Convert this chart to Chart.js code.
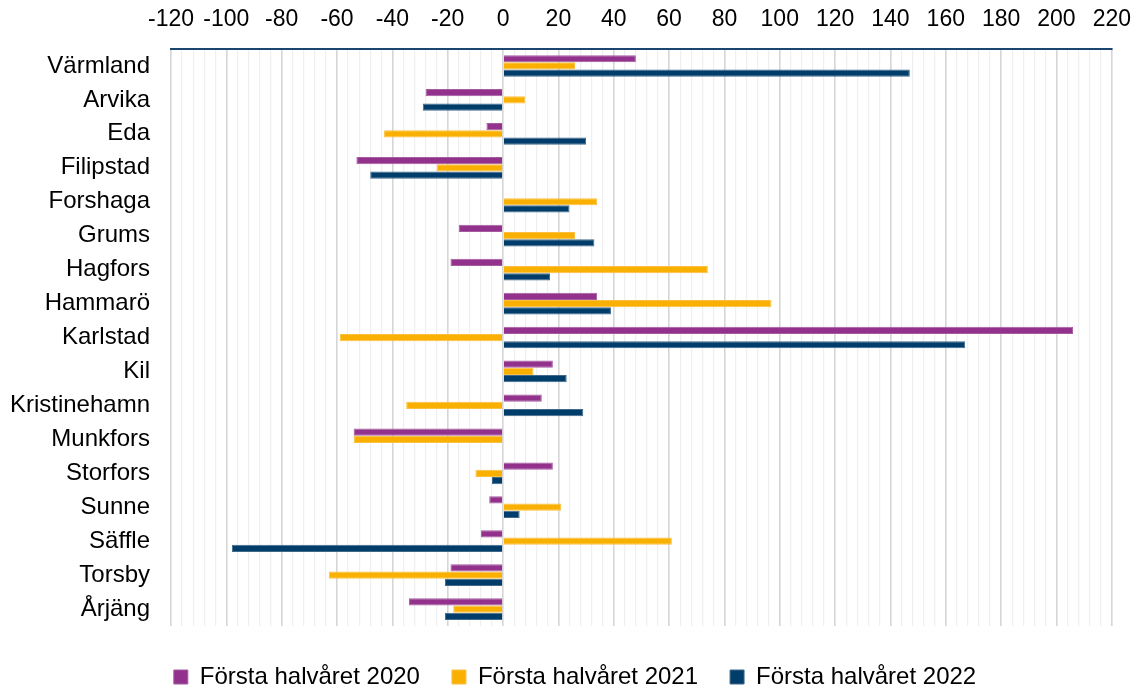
<!DOCTYPE html>
<html>
<head>
<meta charset="utf-8">
<script src="https://cdn.jsdelivr.net/npm/chart.js@4"></script>
<style>
  html, body { margin: 0; padding: 0; background: #fff; }
  #wrap { width: 1140px; height: 693px; }
</style>
</head>
<body>
<div id="wrap"><canvas id="myBarChart"></canvas></div>
<script>
var kommuner = ['Värmland', 'Arvika', 'Eda', 'Filipstad', 'Forshaga', 'Grums', 'Hagfors', 'Hammarö',
    'Karlstad', 'Kil', 'Kristinehamn', 'Munkfors', 'Storfors', 'Sunne', 'Säffle', 'Torsby', 'Årjäng'];
var seriesNames = ['Första halvåret 2020', 'Första halvåret 2021', 'Första halvåret 2022'];
var halvar2020 = [48, -28, -6, -53, 0, -16, -19, 34, 206, 18, 14, -54, 18, -5, -8, -19, -34];
var halvar2021 = [26, 8, -43, -24, 34, 26, 74, 97, -59, 11, -35, -54, -10, 21, 61, -63, -18];
var halvar2022 = [147, -29, 30, -48, 24, 33, 17, 39, 167, 23, 29, 0, -4, 6, -98, -21, -21];
var xMin = -120, xMax = 220;

var ctx = document.getElementById('myBarChart').getContext('2d');
Chart.defaults.font.family = '"Liberation Sans", Arial, sans-serif';
Chart.defaults.color = '#000';

var myBarChart = new Chart(ctx, {
    type: 'bar',
    data: {
        labels: kommuner,
        datasets: [{
            label: seriesNames[0],
            data: halvar2020,
            backgroundColor: '#92328C',
            borderColor: '#A65BA1',
            borderWidth: 1
        }, {
            label: seriesNames[1],
            data: halvar2021,
            backgroundColor: '#FAB000',
            borderColor: '#FBC040',
            borderWidth: 1
        }, {
            label: seriesNames[2],
            data: halvar2022,
            backgroundColor: '#003D6A',
            borderColor: '#3F6A8C',
            borderWidth: 1
        }]
    },
    options: {
        indexAxis: 'y',
        responsive: true,
        maintainAspectRatio: false,
        animation: false,
        categoryPercentage: 0.64,
        barPercentage: 1,
        layout: { padding: { left: 10, right: 0, top: -9, bottom: -6 } },
        plugins: {
            tooltip: { enabled: false },
            legend: {
                position: 'bottom',
                title: {
                    display: true,
                    text: '',
                    padding: { top: 6, bottom: 0 },
                    font: { size: 1, lineHeight: 1 }
                },
                labels: {
                    boxWidth: 14,
                    boxHeight: 14,
                    padding: 32,
                    font: { size: 24 }
                }
            }
        },
        scales: {
            x: {
                position: 'top',
                min: xMin,
                max: xMax,
                border: { display: true, color: '#1B4470', width: 2 },
                grid: {
                    drawTicks: false,
                    color: function (c) {
                        return c.tick && c.tick.value % 20 === 0 ? '#d6d6d6' : '#efefef';
                    },
                    lineWidth: function (c) {
                        return c.tick && c.tick.value % 20 === 0 ? 1.6 : 1.2;
                    }
                },
                ticks: {
                    stepSize: 4,
                    autoSkip: false,
                    maxRotation: 0,
                    padding: 9,
                    font: { size: 23, lineHeight: 1.74 },
                    callback: function (v) {
                        return v % 20 === 0 ? String(v) : '';
                    }
                }
            },
            y: {
                border: { display: false },
                grid: { display: false, drawTicks: false },
                afterFit: function (scale) {
                    scale.width = 161;
                },
                ticks: {
                    padding: 21,
                    font: { size: 24 }
                }
            }
        }
    }
});
</script>
</body>
</html>
